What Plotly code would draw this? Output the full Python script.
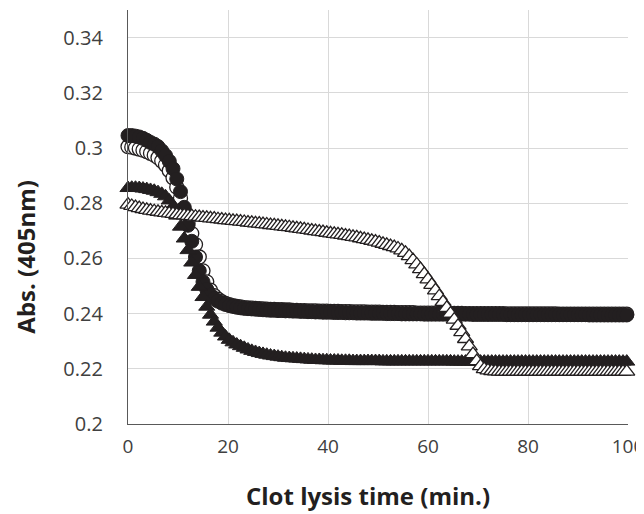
import plotly.graph_objects as go

# sample times (min), 45 s sampling interval
time_min = [round(i * 0.75, 2) for i in range(134)]

# filled circles
abs_filled_circle = [
    0.3045, 0.3045, 0.3043, 0.3040, 0.3035, 0.3028, 0.3020, 0.3014, 0.3005, 0.2990,
    0.2973, 0.2952, 0.2925, 0.2888, 0.2842, 0.2785, 0.2720, 0.2662, 0.2605, 0.2555,
    0.2515, 0.2488, 0.2468, 0.2455, 0.2445, 0.2438, 0.2433, 0.2429, 0.2426, 0.2423,
    0.2421, 0.2419, 0.2418, 0.2417, 0.2416, 0.2415, 0.2414, 0.2413, 0.2412, 0.2412,
    0.2411, 0.2411, 0.2410, 0.2410, 0.2409, 0.2409, 0.2408, 0.2408, 0.2407, 0.2407,
    0.2406, 0.2406, 0.2405, 0.2405, 0.2405, 0.2404, 0.2404, 0.2404, 0.2403, 0.2403,
    0.2403, 0.2402, 0.2402, 0.2402, 0.2402, 0.2401, 0.2401, 0.2401, 0.2401, 0.2400,
    0.2400, 0.2400, 0.2400, 0.2399, 0.2399, 0.2399, 0.2399, 0.2399, 0.2399, 0.2398,
    0.2398, 0.2398, 0.2398, 0.2398, 0.2398, 0.2398, 0.2398, 0.2398, 0.2398, 0.2398,
    0.2398, 0.2398, 0.2397, 0.2397, 0.2397, 0.2397, 0.2397, 0.2397, 0.2397, 0.2397,
    0.2397, 0.2396, 0.2396, 0.2396, 0.2396, 0.2396, 0.2396, 0.2396, 0.2396, 0.2396,
    0.2396, 0.2396, 0.2396, 0.2396, 0.2396, 0.2396, 0.2396, 0.2396, 0.2396, 0.2396,
    0.2396, 0.2396, 0.2396, 0.2395, 0.2395, 0.2395, 0.2395, 0.2395, 0.2395, 0.2395,
    0.2395, 0.2395, 0.2395, 0.2395,
]

# open circles
abs_open_circle = [
    0.3005, 0.3003, 0.3000, 0.2996, 0.2992, 0.2987, 0.2981, 0.2974, 0.2965, 0.2953,
    0.2938, 0.2918, 0.2892, 0.2858, 0.2818, 0.2772, 0.2728, 0.2690, 0.2650, 0.2605,
    0.2555, 0.2515, 0.2485, 0.2465, 0.2452, 0.2443, 0.2437, 0.2432, 0.2429, 0.2426,
    0.2424, 0.2422, 0.2421, 0.2420, 0.2419, 0.2418, 0.2417, 0.2416, 0.2415, 0.2415,
    0.2414, 0.2414, 0.2413, 0.2413, 0.2412, 0.2412, 0.2411, 0.2411, 0.2410, 0.2410,
    0.2410, 0.2409, 0.2409, 0.2409, 0.2408, 0.2408, 0.2408, 0.2407, 0.2407, 0.2407,
    0.2406, 0.2406, 0.2406, 0.2406, 0.2405, 0.2405, 0.2405, 0.2405, 0.2404, 0.2404,
    0.2404, 0.2404, 0.2403, 0.2403, 0.2403, 0.2403, 0.2403, 0.2402, 0.2402, 0.2402,
    0.2402, 0.2402, 0.2402, 0.2401, 0.2401, 0.2401, 0.2401, 0.2401, 0.2401, 0.2401,
    0.2400, 0.2400, 0.2400, 0.2400, 0.2400, 0.2400, 0.2400, 0.2400, 0.2400, 0.2400,
    0.2400, 0.2399, 0.2399, 0.2399, 0.2399, 0.2399, 0.2399, 0.2399, 0.2399, 0.2399,
    0.2399, 0.2399, 0.2399, 0.2399, 0.2399, 0.2398, 0.2398, 0.2398, 0.2398, 0.2398,
    0.2398, 0.2398, 0.2398, 0.2398, 0.2398, 0.2398, 0.2398, 0.2398, 0.2398, 0.2398,
    0.2398, 0.2398, 0.2398, 0.2398,
]

# filled triangles
abs_filled_triangle = [
    0.2855, 0.2856, 0.2856, 0.2855, 0.2853, 0.2851, 0.2848, 0.2845, 0.2840, 0.2834,
    0.2825, 0.2810, 0.2788, 0.2755, 0.2715, 0.2672, 0.2630, 0.2585, 0.2540, 0.2497,
    0.2460, 0.2425, 0.2396, 0.2371, 0.2349, 0.2331, 0.2317, 0.2305, 0.2296, 0.2288,
    0.2282, 0.2276, 0.2270, 0.2265, 0.2261, 0.2257, 0.2254, 0.2251, 0.2248, 0.2246,
    0.2244, 0.2242, 0.2240, 0.2239, 0.2238, 0.2237, 0.2236, 0.2235, 0.2234, 0.2233,
    0.2232, 0.2232, 0.2231, 0.2231, 0.2230, 0.2230, 0.2230, 0.2229, 0.2229, 0.2229,
    0.2228, 0.2228, 0.2228, 0.2228, 0.2228, 0.2228, 0.2228, 0.2228, 0.2227, 0.2227,
    0.2227, 0.2227, 0.2227, 0.2227, 0.2227, 0.2227, 0.2227, 0.2227, 0.2227, 0.2227,
    0.2227, 0.2227, 0.2227, 0.2227, 0.2227, 0.2227, 0.2227, 0.2226, 0.2226, 0.2226,
    0.2226, 0.2226, 0.2226, 0.2226, 0.2226, 0.2226, 0.2226, 0.2226, 0.2226, 0.2226,
    0.2226, 0.2226, 0.2226, 0.2226, 0.2226, 0.2226, 0.2226, 0.2226, 0.2226, 0.2226,
    0.2226, 0.2226, 0.2226, 0.2226, 0.2226, 0.2226, 0.2226, 0.2226, 0.2226, 0.2226,
    0.2226, 0.2226, 0.2226, 0.2226, 0.2226, 0.2226, 0.2226, 0.2226, 0.2226, 0.2226,
    0.2226, 0.2226, 0.2226, 0.2226,
]

# open triangles
abs_open_triangle = [
    0.2795, 0.2790, 0.2786, 0.2782, 0.2779, 0.2776, 0.2773, 0.2771, 0.2769, 0.2767,
    0.2765, 0.2763, 0.2761, 0.2759, 0.2757, 0.2756, 0.2754, 0.2753, 0.2751, 0.2750,
    0.2748, 0.2747, 0.2745, 0.2744, 0.2742, 0.2741, 0.2739, 0.2738, 0.2736, 0.2735,
    0.2733, 0.2732, 0.2730, 0.2729, 0.2727, 0.2726, 0.2724, 0.2723, 0.2721, 0.2720,
    0.2718, 0.2716, 0.2714, 0.2713, 0.2711, 0.2709, 0.2707, 0.2705, 0.2703, 0.2701,
    0.2699, 0.2697, 0.2695, 0.2693, 0.2691, 0.2689, 0.2687, 0.2685, 0.2683, 0.2681,
    0.2678, 0.2676, 0.2673, 0.2670, 0.2667, 0.2664, 0.2661, 0.2657, 0.2653, 0.2649,
    0.2645, 0.2641, 0.2636, 0.2629, 0.2620, 0.2608, 0.2594, 0.2578, 0.2561, 0.2543,
    0.2524, 0.2504, 0.2484, 0.2463, 0.2442, 0.2421, 0.2400, 0.2378, 0.2356, 0.2333,
    0.2308, 0.2281, 0.2253, 0.2228, 0.2210, 0.2199, 0.2194, 0.2192, 0.2191, 0.2190,
    0.2190, 0.2190, 0.2190, 0.2190, 0.2190, 0.2190, 0.2190, 0.2190, 0.2190, 0.2190,
    0.2190, 0.2190, 0.2190, 0.2190, 0.2190, 0.2190, 0.2190, 0.2190, 0.2190, 0.2190,
    0.2190, 0.2190, 0.2190, 0.2190, 0.2190, 0.2190, 0.2190, 0.2190, 0.2190, 0.2190,
    0.2190, 0.2190, 0.2190, 0.2190,
]

x_tick_vals = [0, 20, 40, 60, 80, 100]
x_tick_text = ["0", "20", "40", "60", "80", "100"]
y_tick_vals = [0.2, 0.22, 0.24, 0.26, 0.28, 0.3, 0.32, 0.34]
y_tick_text = ["0.2", "0.22", "0.24", "0.26", "0.28", "0.3", "0.32", "0.34"]
x_title = "Clot lysis time (min.)"
y_title = "Abs. (405nm)"

FONT = "Open Sans"
INK = "#231f20"

fig = go.Figure()


def add(y, symbol, filled):
    fig.add_trace(go.Scatter(
        x=time_min, y=y, mode="markers", cliponaxis=False, showlegend=False,
        marker=dict(
            symbol=symbol, size=14,
            color=INK if filled else "white",
            line=dict(color=INK, width=1 if filled else 1.3),
        ),
    ))


add(abs_open_circle, "circle", False)
add(abs_filled_circle, "circle", True)
add(abs_filled_triangle, "triangle-up", True)
add(abs_open_triangle, "triangle-up", False)

fig.update_layout(
    width=644, height=506,
    margin=dict(l=120, r=24, t=2, b=90, autoexpand=False),
    paper_bgcolor="white", plot_bgcolor="white",
    font=dict(family=FONT, color="#404040"),
    xaxis=dict(
        range=[0, 100], tickvals=x_tick_vals, ticktext=x_tick_text,
        automargin=False, ticklabeloverflow="allow",
        showgrid=True, gridcolor="#d9d9d9", gridwidth=1,
        showline=True, linecolor="#595959", linewidth=1.2,
        zeroline=False, ticks="", ticklabelstandoff=5,
        tickfont=dict(size=19, family=FONT, color="#404040"),
    ),
    yaxis=dict(
        range=[0.2, 0.35], tickvals=y_tick_vals, ticktext=y_tick_text,
        automargin=False, ticklabeloverflow="allow",
        showgrid=True, gridcolor="#d9d9d9", gridwidth=1,
        showline=True, linecolor="#595959", linewidth=1.2,
        zeroline=False, ticks="", ticklabelstandoff=20,
        tickfont=dict(size=20, family=FONT, color="#404040"),
    ),
    annotations=[
        dict(text="<b>" + x_title + "</b>", xref="paper", yref="paper",
             x=0.48, y=-0.1715, xanchor="center", yanchor="middle",
             showarrow=False, font=dict(size=24, family=FONT, color=INK)),
        dict(text="<b>" + y_title + "</b>", xref="paper", yref="paper",
             x=-0.205, y=0.403, xanchor="center", yanchor="middle",
             textangle=-90, showarrow=False,
             font=dict(size=24, family=FONT, color=INK)),
    ],
)

fig.write_html(
    "out.html",
    post_script=("document.documentElement.style.overflow='hidden';"
                 "document.body.style.overflow='hidden';"),
)
